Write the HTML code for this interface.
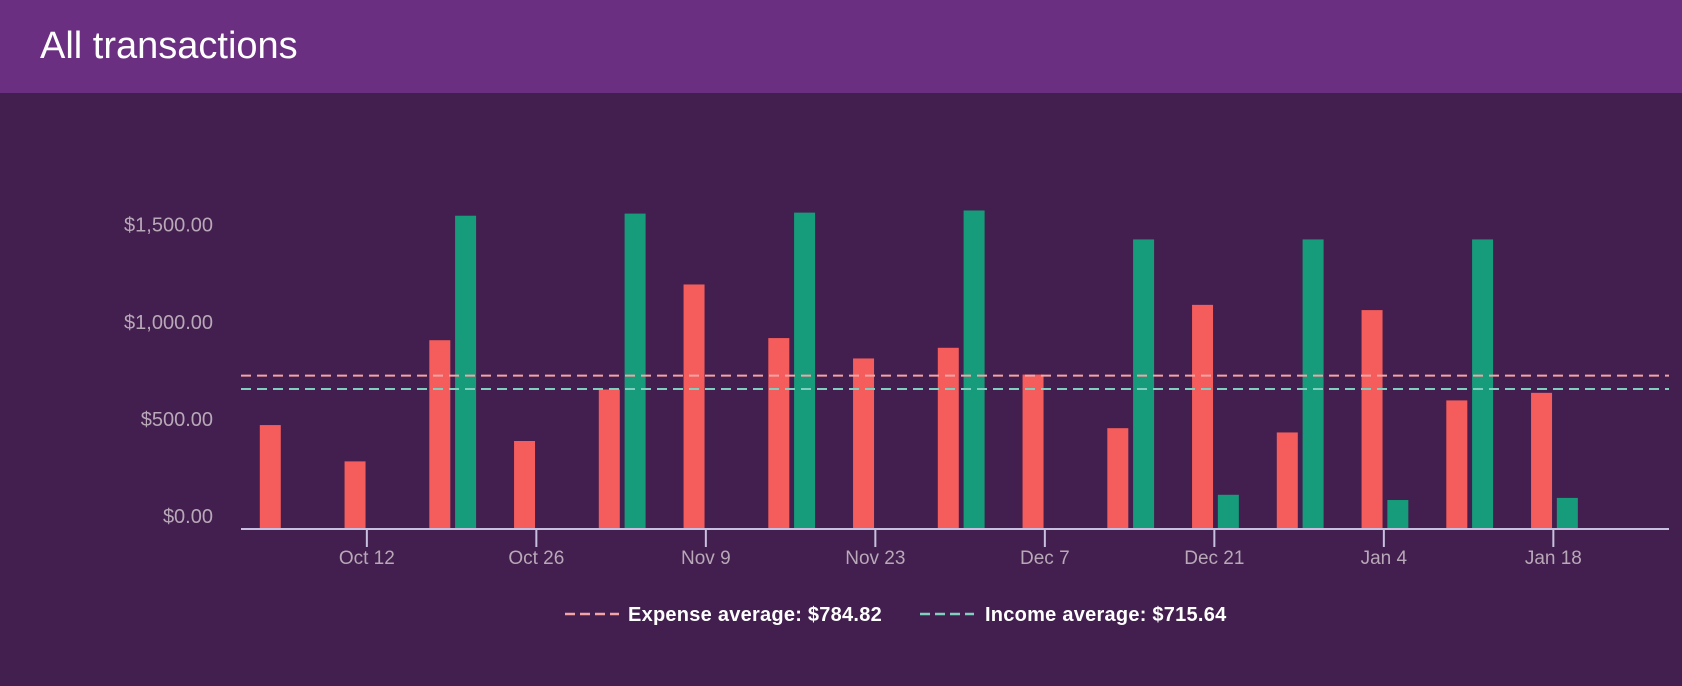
<!DOCTYPE html>
<html><head><meta charset="utf-8"><style>
html,body{margin:0;padding:0;background:#421f4e;width:1682px;height:686px;overflow:hidden;font-family:"Liberation Sans",sans-serif}
#hdr{position:absolute;left:0;top:0;width:1682px;height:93px;background:#6a2f80}
#title{position:absolute;left:40px;top:27px;font-size:38px;line-height:38px;color:#fff}
svg{position:absolute;left:0;top:0}
</style></head><body>
<div id="hdr"><div id="title">All transactions</div></div>
<svg id="chart" width="1682" height="686"></svg>
<script>
const weeks = ["Oct 5","Oct 12","Oct 19","Oct 26","Nov 2","Nov 9","Nov 16","Nov 23","Nov 30","Dec 7","Dec 14","Dec 21","Dec 28","Jan 4","Jan 11","Jan 18"];
const expenses = [530,343,967,448,713,1254,978,873,928,790,514,1149,492,1122,657,696];
const income = [0,0,1608,0,1619,0,1624,0,1635,0,1486,171,1486,144,1486,155];
const yTicks = [0,500,1000,1500];
const yTickLabels = ["$0.00","$500.00","$1,000.00","$1,500.00"];
const xTickLabels = ["Oct 12","Oct 26","Nov 9","Nov 23","Dec 7","Dec 21","Jan 4","Jan 18"];
const xTickWeekIdx = [1,3,5,7,9,11,13,15];
const expenseAvg = 784.82;
const incomeAvg = 715.64;

const svg = document.getElementById('chart');
const NS = 'http://www.w3.org/2000/svg';
const y0 = 528, pxPer = 0.1942;
const yScale = v => y0 - v * pxPer;
const xScale = i => 282.1 + i * 84.75;
function mk(tag, attrs){const e=document.createElementNS(NS,tag);for(const k in attrs)e.setAttribute(k,attrs[k]);svg.appendChild(e);return e;}

yTicks.forEach((v,i)=>{
  const t=mk('text',{x:213,y:yScale(v)-5,'text-anchor':'end','font-size':20,fill:'#b8a8b8'});
  t.textContent=yTickLabels[i];
  
  
});

const bw=21;
expenses.forEach((v,i)=>{
  const cx=xScale(i)-11.8;
  const r=mk('rect',{x:cx-bw/2,y:yScale(v),width:bw,height:v*pxPer,fill:'#f45d5c'});
  
  
});
income.forEach((v,i)=>{
  if(v<=0) return;
  const cx=xScale(i)+14;
  const r=mk('rect',{x:cx-bw/2,y:yScale(v),width:bw,height:v*pxPer,fill:'#169c7a'});
  
  
});

const ea=mk('line',{x1:241,x2:1669,y1:yScale(expenseAvg),y2:yScale(expenseAvg),stroke:'#f4a4a4','stroke-width':2,'stroke-dasharray':'10 6'});


const ia=mk('line',{x1:241,x2:1669,y1:yScale(incomeAvg),y2:yScale(incomeAvg),stroke:'#80d0c0','stroke-width':2,'stroke-dasharray':'10 6'});



const ax=mk('line',{x1:241,x2:1669,y1:y0+1,y2:y0+1,stroke:'#c8c0e0','stroke-width':2});



xTickLabels.forEach((lab,i)=>{
  const x=xScale(xTickWeekIdx[i]);
  const tk=mk('line',{x1:x,x2:x,y1:y0,y2:y0+19,stroke:'#c8c0e0','stroke-width':2});
  
  
  const t=mk('text',{x:x,y:564,'text-anchor':'middle','font-size':19,fill:'#b8a8b8'});
  t.textContent=lab;
  
  
});

const l1=mk('line',{x1:565,x2:619,y1:614,y2:614,stroke:'#f4a4a4','stroke-width':2.5,'stroke-dasharray':'10 5'});


const t1=mk('text',{x:628,y:621,'font-size':20,'letter-spacing':0.25,'font-weight':'bold',fill:'#fff'});
t1.textContent='Expense average: $'+expenseAvg.toFixed(2);


const l2=mk('line',{x1:920,x2:974,y1:614,y2:614,stroke:'#80d0c0','stroke-width':2.5,'stroke-dasharray':'10 5'});


const t2=mk('text',{x:985,y:621,'font-size':20,'letter-spacing':0.25,'font-weight':'bold',fill:'#fff'});
t2.textContent='Income average: $'+incomeAvg.toFixed(2);


</script>
</body></html>
